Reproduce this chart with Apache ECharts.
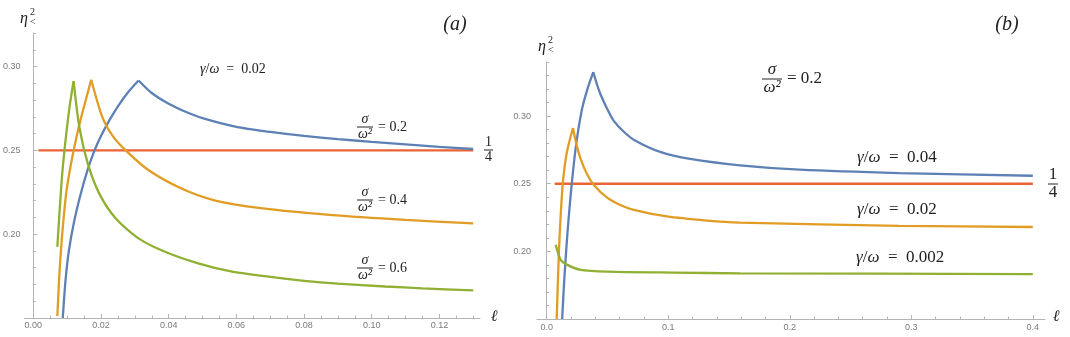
<!DOCTYPE html>
<html>
<head>
<meta charset="utf-8">
<script src="https://cdn.jsdelivr.net/npm/echarts@6/dist/echarts.min.js"></script>
<style>
  html, body { margin: 0; padding: 0; background: #fff; }
  #chart { width: 1070px; height: 337px; }
</style>
</head>
<body>
<div id="chart"></div>
<script>
// panel (a): gamma/omega = 0.02, sigma/omega^2 = 0.2 (blue), 0.4 (orange), 0.6 (green)
const aBlueRise = [[0.0087, 0.150], [0.0095, 0.172], [0.0105, 0.190], [0.012, 0.207], [0.014, 0.224], [0.016, 0.238], [0.018, 0.2495], [0.020, 0.2585], [0.0225, 0.268], [0.025, 0.2763], [0.028, 0.2847], [0.0311, 0.2917]];
const aBlueFall = [[0.0311, 0.2917], [0.035, 0.2842], [0.040, 0.2778], [0.045, 0.2730], [0.050, 0.2692], [0.060, 0.2640], [0.070, 0.2610], [0.080, 0.2586], [0.090, 0.2567], [0.100, 0.2551], [0.110, 0.2536], [0.120, 0.2521], [0.130, 0.2508]];
const aOrangeRise = [[0.0071, 0.1512], [0.0077, 0.176], [0.0085, 0.199], [0.0097, 0.2242], [0.011, 0.2405], [0.0125, 0.2555], [0.014, 0.2685], [0.0155, 0.2800], [0.0171, 0.2921]];
const aOrangeFall = [[0.0171, 0.2921], [0.0204, 0.2698], [0.0235, 0.2585], [0.0273, 0.2500], [0.0341, 0.2381], [0.0438, 0.2272], [0.0535, 0.2202], [0.0672, 0.2155], [0.0875, 0.2115], [0.110, 0.2085], [0.130, 0.2065]];
const aGreenRise = [[0.0071, 0.1924], [0.0083, 0.230], [0.0092, 0.250], [0.0107, 0.2758], [0.0119, 0.2913]];
const aGreenFall = [[0.0119, 0.2913], [0.0136, 0.2639], [0.0161, 0.2421], [0.0195, 0.2242], [0.0243, 0.2095], [0.0311, 0.1975], [0.0389, 0.1895], [0.0487, 0.1826], [0.0584, 0.1778], [0.070, 0.1745], [0.080, 0.1722], [0.090, 0.1705], [0.104, 0.1688], [0.115, 0.1677], [0.130, 0.1665]];
const aQuarter = [[0.0015, 0.25], [0.130, 0.25]];

// panel (b): sigma/omega^2 = 0.2, gamma/omega = 0.04 (blue), 0.02 (orange), 0.002 (green)
const bBlueRise = [[0.0127, 0.150], [0.0145, 0.180], [0.0170, 0.213], [0.0200, 0.2445], [0.0240, 0.2775], [0.0290, 0.3050], [0.0335, 0.3200], [0.0383, 0.3325]];
const bBlueFall = [[0.0383, 0.3325], [0.0415, 0.3230], [0.0443, 0.3160], [0.050, 0.3049], [0.0552, 0.2965], [0.063, 0.2888], [0.0716, 0.2826], [0.0934, 0.2735], [0.118, 0.2683], [0.159, 0.2636], [0.208, 0.2604], [0.290, 0.2579], [0.400, 0.2559]];
const bOrangeRise = [[0.0082, 0.150], [0.0101, 0.2011], [0.0128, 0.2456], [0.0148, 0.2630], [0.0170, 0.2752], [0.0216, 0.2912]];
const bOrangeFall = [[0.0216, 0.2912], [0.0245, 0.2789], [0.0279, 0.2684], [0.033, 0.2574], [0.0388, 0.2491], [0.0497, 0.2397], [0.060, 0.2345], [0.0716, 0.2307], [0.0989, 0.2258], [0.1317, 0.2228], [0.159, 0.2213], [0.290, 0.2189], [0.400, 0.2180]];
const bGreen = [[0.0074, 0.2048], [0.0115, 0.1937], [0.0170, 0.1900], [0.0279, 0.1863], [0.0497, 0.1850], [0.104, 0.1843], [0.159, 0.1838], [0.400, 0.1832]];
const bQuarter = [[0.0066, 0.25], [0.400, 0.25]];

// ticks
const aXMajor = [0, 0.02, 0.04, 0.06, 0.08, 0.10, 0.12];
const aYMajor = [0.15, 0.20, 0.25, 0.30];
const aYLabels = [0.20, 0.25, 0.30];
const bXMajor = [0, 0.1, 0.2, 0.3, 0.4];
const bYMajor = [0.15, 0.20, 0.25, 0.30];
const bYLabels = [0.20, 0.25, 0.30];

const C = { blue: '#5E81B5', orange: '#E19C24', green: '#8FB032', red: '#EB6235' };
const AXIS = '#b4b4b4';
const TICKTXT = '#7a7a7a';
const SANS = "'Liberation Sans', 'DejaVu Sans', sans-serif";
const SERIF = "'Liberation Serif', 'DejaVu Serif', serif";

function steps(from, to, step) {
  const out = [];
  const n = Math.round((to - from) / step);
  for (let i = 0; i <= n; i++) out.push(Math.round((from + i * step) * 1e6) / 1e6);
  return out;
}

// main axis (line, long ticks, labels) + helper axis (short minor ticks)
function axisPair(gi, pos, min, max, major, labels, minor, digits, fontSize, margin) {
  const base = { type: 'value', gridIndex: gi, position: pos, min, max, splitLine: { show: false } };
  return [
    Object.assign({}, base, {
      axisLine: { show: true, onZero: true, lineStyle: { color: AXIS, width: 1 } },
      axisTick: { show: true, inside: true, length: 4, customValues: major, lineStyle: { color: AXIS } },
      axisLabel: { customValues: labels, formatter: v => v.toFixed(digits), color: TICKTXT, fontSize, fontFamily: SANS, margin }
    }),
    Object.assign({}, base, {
      axisLine: { show: false, onZero: true },
      axisTick: { show: true, inside: true, length: 2.5, customValues: minor, lineStyle: { color: AXIS } },
      axisLabel: { show: false }
    })
  ];
}

function seg(data, color, gi, width) {
  return {
    type: 'line', xAxisIndex: gi * 2, yAxisIndex: gi * 2, data,
    smooth: 0.25, symbol: 'none', silent: true,
    lineStyle: { color, width: width || 2.3 }
  };
}

function txt(x, y, s, size, o) {
  o = o || {};
  return {
    type: 'text', x, y, silent: true,
    style: {
      text: s, fill: '#222', fontSize: size, fontFamily: SERIF,
      fontStyle: o.italic ? 'italic' : 'normal',
      align: o.align || 'left', verticalAlign: o.va || 'middle',
      rich: { i: { fontStyle: 'italic', fontSize: size, fontFamily: SERIF, fill: '#222' } }
    }
  };
}

// stacked fraction, bar from x to x+w at y, optional trailing text
function frac(x, y, w, num, den, size, numItalic, rest) {
  const cx = x + w / 2;
  const els = [
    txt(cx, y - 1, num, size, { italic: numItalic, align: 'center', va: 'bottom' }),
    { type: 'rect', silent: true, shape: { x, y: y - 0.5, width: w, height: 1 }, style: { fill: '#222' } },
    txt(cx, y + 0.5, den, size, { italic: numItalic, align: 'center', va: 'top' })
  ];
  if (rest) els.push(txt(x + w + 5, y, rest, size));
  return els;
}

function eta(x, y) {
  return [
    txt(x, y, 'η', 16, { italic: true }),
    txt(x + 10, y - 7, '2', 10),
    txt(x + 10, y + 3, '<', 10)
  ];
}

const chart = echarts.init(document.getElementById('chart'));

const ax = axisPair(0, 'bottom', -0.0026, 0.132, aXMajor, aXMajor, steps(0, 0.13, 0.005), 2, 9, 3);
const ay = axisPair(0, 'left', 0.15, 0.32, aYMajor, aYLabels, steps(0.15, 0.32, 0.01), 2, 9, 4);
const bx = axisPair(1, 'bottom', -0.008, 0.41, bXMajor, bXMajor, steps(0, 0.4, 0.02), 1, 9, 4);
const by = axisPair(1, 'left', 0.15, 0.34, bYMajor, bYLabels, steps(0.15, 0.34, 0.01), 2, 9, 6);

const graphics = [].concat(
  [txt(455, 25, '(a)', 20, { italic: true, align: 'center' })],
  eta(20, 19),
  [txt(494, 317, 'ℓ', 16, { italic: true, align: 'center' })],
  [txt(200, 69, '{i|γ}/{i|ω}  =  0.02', 14)],
  frac(357, 127, 16, 'σ', 'ω²', 14, true, '= 0.2'),
  frac(357, 200, 16, 'σ', 'ω²', 14, true, '= 0.4'),
  frac(357, 268, 16, 'σ', 'ω²', 14, true, '= 0.6'),
  frac(484, 150, 9, '1', '4', 14, false),

  [txt(1007, 25, '(b)', 20, { italic: true, align: 'center' })],
  eta(538, 47),
  [txt(1056, 317, 'ℓ', 16, { italic: true, align: 'center' })],
  frac(762, 79, 20, 'σ', 'ω²', 17, true, '= 0.2'),
  [txt(857, 158, '{i|γ}/{i|ω}  =  0.04', 17)],
  [txt(857, 210, '{i|γ}/{i|ω}  =  0.02', 17)],
  [txt(856, 258, '{i|γ}/{i|ω}  =  0.002', 17)],
  frac(1048, 184, 10, '1', '4', 17, false)
);

chart.setOption({
  animation: false,
  backgroundColor: '#fff',
  grid: [
    { left: 18, top: 33, width: 462, height: 285 },
    { left: 537, top: 62, width: 508, height: 257 }
  ],
  xAxis: ax.concat(bx),
  yAxis: ay.concat(by),
  series: [
    seg(aQuarter, C.red, 0, 2.4),
    seg(aBlueRise, C.blue, 0), seg(aBlueFall, C.blue, 0),
    seg(aOrangeRise, C.orange, 0), seg(aOrangeFall, C.orange, 0),
    seg(aGreenRise, C.green, 0), seg(aGreenFall, C.green, 0),
    seg(bQuarter, C.red, 1, 2.4),
    seg(bBlueRise, C.blue, 1), seg(bBlueFall, C.blue, 1),
    seg(bOrangeRise, C.orange, 1), seg(bOrangeFall, C.orange, 1),
    seg(bGreen, C.green, 1)
  ],
  graphic: graphics
});
</script>
</body>
</html>
